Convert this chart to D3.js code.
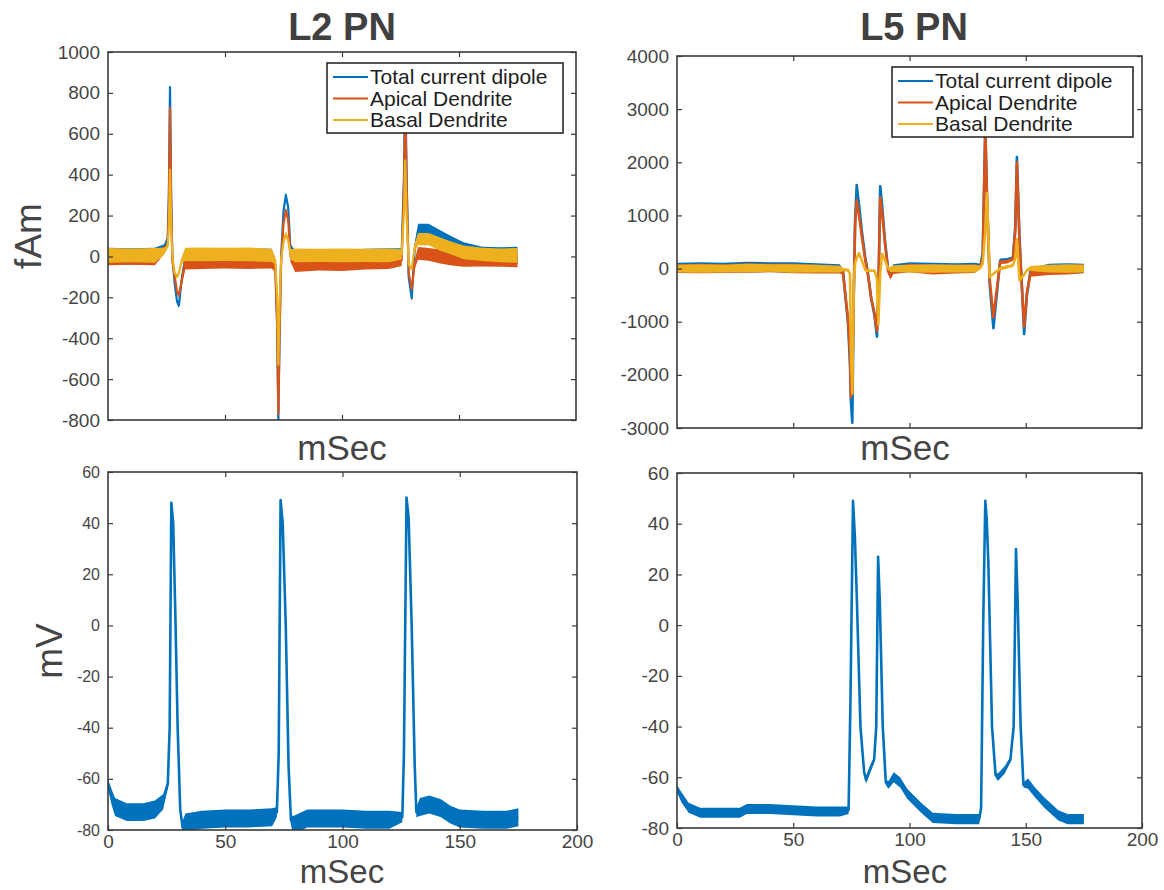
<!DOCTYPE html>
<html>
<head>
<meta charset="utf-8">
<script src="https://cdn.jsdelivr.net/npm/d3@7"></script>
<style>
  body { margin: 0; background: #fff; }
  svg { font-family: "Liberation Sans", Arial, Helvetica, sans-serif; }
</style>
</head>
<body>
<svg id="chart" width="1164" height="890"></svg>
<script>
// ---------- data ----------

// L2 PN current dipole (fAm), key points in ms
const l2Time = [0, 10, 20, 24, 25.5, 26, 26.5, 27, 27.5, 28.5, 29.5, 30.3, 31.5, 33, 40, 50, 60, 70,
    71.5, 72.3, 72.8, 73.3, 74, 75, 76, 77, 78, 80, 90, 100, 110, 120, 125.5, 126.5, 127, 127.6,
    128.5, 129.8, 131, 132.5, 137, 142, 147, 152, 160, 168, 175];
const l2Total = [0, 0, 0, 40, 90, 300, 828, 300, 0, -130, -220, -240, -110, -10, 0, 0, 0, 0,
    -40, -350, -800, -400, 0, 220, 300, 240, 30, -10, -10, -10, 0, 0, 10, 400, 880, 400,
    -100, -205, 30, 125, 125, 90, 60, 30, 10, 5, 5];
const l2Apical = [-5, -5, -5, 30, 60, 250, 726, 250, -20, -100, -170, -190, -120, -30, -25, -25, -25, -25,
    -60, -330, -770, -380, -20, 160, 225, 180, 0, -40, -35, -35, -30, -25, -20, 350, 780, 350,
    -80, -160, -40, 15, 10, 0, -10, -15, -15, -15, -15];
const l2Basal = [5, 5, 5, 25, 50, 150, 424, 150, 0, -80, -100, -80, -20, 10, 10, 10, 10, 5,
    -20, -200, -530, -250, -10, 70, 110, 80, 10, 5, 5, 5, 5, 5, 10, 220, 470, 200,
    -40, -60, 40, 85, 85, 60, 40, 20, 10, 5, 5];
// half width of the noise band around the traces
const l2Noise = [42, 40, 42, 20, 10, 5, 5, 5, 8, 10, 10, 12, 20, 38, 40, 38, 40, 38,
    20, 5, 5, 5, 10, 15, 15, 15, 30, 40, 38, 40, 38, 40, 30, 5, 5, 5,
    10, 12, 25, 35, 35, 38, 38, 40, 38, 40, 42];

// L5 PN current dipole (fAm)
const l5Time = [0, 10, 20, 30, 40, 50, 60, 70, 71.4, 73.6, 74.4, 74.8, 75.4, 76, 76.6, 77.3, 78.3,
    79.5, 81, 82, 83.5, 85, 86, 86.6, 87.4, 88.2, 89.5, 90.8, 91.8, 93, 100, 110, 120, 128,
    130.5, 131.5, 132.6, 133.3, 134.5, 136.1, 137.5, 139, 142, 144.5, 145.5, 146.2, 147.3,
    149.3, 150.5, 152, 160, 168, 175];
const l5Total = [20, 20, 20, 30, 30, 20, 10, 0, -50, -1050, -1800, -2500, -2900, -600, 900, 1570, 1200,
    700, 200, -50, -550, -900, -1280, -500, 1550, 1200, 500, 0, -80, 0, 30, 10, 10, 20,
    50, 300, 2650, 1400, -300, -1120, -500, 150, 160, 200, 800, 2100, 600,
    -1230, -500, -50, 0, 0, 0];
const l5Apical = [0, 0, 0, 10, 10, 0, -10, -20, -80, -970, -1600, -2420, -2300, -500, 800, 1290, 1000,
    600, 150, -80, -550, -850, -1180, -450, 1340, 1050, 450, -50, -150, -30, 10, -20, -10, 0,
    30, 200, 2600, 1400, -200, -920, -400, 120, 130, 180, 700, 2000, 500,
    -1100, -450, -100, -40, -20, 0];
const l5Basal = [0, 0, 0, 10, 10, 0, 0, -10, -20, -30, -100, -1500, -2350, -300, 100, 200, 290,
    150, -30, -40, -40, -40, -200, -1050, -100, 280, 150, 0, -20, 0, 0, 0, 0, 0,
    20, 100, 700, 1420, -160, -100, -50, 0, 30, 60, 200, 550, -220,
    -120, -30, 0, 0, 0, 0];
const l5Noise = [90, 100, 90, 100, 90, 100, 90, 80, 40, 30, 20, 20, 20, 20, 20, 20, 20,
    20, 20, 30, 30, 20, 20, 20, 20, 20, 20, 30, 60, 80, 90, 100, 90, 90,
    40, 20, 20, 20, 20, 20, 30, 40, 40, 30, 20, 20, 20,
    20, 30, 60, 90, 100, 90];

// somatic membrane potential (mV)
const l2SomaTime = [0, 1.5, 3, 8, 15, 20, 23.5, 25.5, 26.3, 27, 27.8, 28.7, 29.7, 30.8, 31.8, 33, 40,
    50, 60, 70, 72, 72.8, 73.6, 74.5, 75.8, 77, 78, 79, 85, 100, 110, 120, 125.5, 126.2, 127.3,
    128.2, 129.5, 130.8, 131.5, 133, 137, 142, 146, 150, 160, 170, 175];
const l2Soma = [-62, -67, -71, -73, -73, -72, -69, -62, -40, 48, 40, 5, -40, -72, -79, -77, -76,
    -75.5, -75.5, -75, -73, -50, 49, 40, 0, -55, -76, -78, -75.5, -75.5, -76, -76, -75, -50, 50,
    42, 0, -55, -73, -71, -70, -71.5, -74, -75.5, -76, -76, -75];
const l2SomaNoise = [2, 3, 3.5, 3.5, 3.5, 3.5, 3, 1.5, 0.5, 0.5, 0.5, 0.5, 0.5, 1, 2.5, 3.5, 3.5,
    3.5, 3.5, 3.5, 2, 0.5, 0.5, 0.5, 0.5, 0.5, 2, 3.5, 3.5, 3.5, 3.5, 3.5, 2, 0.5, 0.5,
    0.5, 0.5, 0.5, 2, 3.5, 3.5, 3.5, 3.5, 3.5, 3.5, 3.5, 3.5];

const l5SomaTime = [0, 2, 5, 10, 20, 27, 30, 40, 50, 60, 70, 73.8, 74.6, 75.7, 76.5, 77.3, 78.9, 80.5,
    81.3, 83, 84.8, 85.7, 86.5, 87.2, 88.5, 89.8, 91, 93.2, 96, 99, 105, 110, 120, 130, 130.8,
    131.7, 132.6, 133.2, 133.9, 135.5, 137, 138, 141, 143.4, 144.8, 145.8, 146.5, 147.8, 149,
    151, 154, 158, 164, 168, 175];
const l5Soma = [-64.5, -68, -72, -74, -74, -74, -72.5, -72.5, -73, -73.5, -73.5, -73, -30, 49, 35, 12, -40, -58,
    -61, -57, -53, -40, 27, 10, -40, -62, -63, -60, -62, -66.5, -72, -76, -76.5, -76.5, -72,
    0, 49, 42, 25, -40, -59, -60, -57, -53, -40, 30, 10, -40, -63,
    -62.5, -66, -70, -75, -76.5, -76.5];
const l5SomaNoise = [1.5, 2, 2, 2, 2, 2, 2, 2, 2, 2, 2, 1.5, 0.5, 0.5, 0.5, 0.5, 0.5, 1,
    1.5, 1.5, 1, 0.5, 0.5, 0.5, 0.5, 1, 1.5, 2, 2, 2, 2, 2, 2, 2, 1,
    0.5, 0.5, 0.5, 0.5, 0.5, 1, 1.5, 1.5, 1, 0.5, 0.5, 0.5, 0.5, 1,
    2, 2, 2, 2, 2, 2];

// ticks and labels
const timeTicks = [0, 50, 100, 150, 200];
const l2DipoleTicks = [-800, -600, -400, -200, 0, 200, 400, 600, 800, 1000];
const l5DipoleTicks = [-3000, -2000, -1000, 0, 1000, 2000, 3000, 4000];
const somaTicks = [-80, -60, -40, -20, 0, 20, 40, 60];
const legendNames = ["Total current dipole", "Apical Dendrite", "Basal Dendrite"];
const panelTitles = ["L2 PN", "L5 PN"];

// ---------- drawing ----------
const svg = d3.select("#chart");
const colors = ["#0072BD", "#D95319", "#EDB120"];
const ink = "#3a3a3a";
const tickLen = 5;
const plain = d => String(d); // MATLAB style: no separators, hyphen minus

let clipCount = 0;

function drawPanel(p) {
    const g = svg.append("g");

    const x = d3.scaleLinear().domain([0, 200]).range([p.left, p.right]);
    const y = d3.scaleLinear().domain([p.yTicks[0], p.yTicks[p.yTicks.length - 1]])
        .range([p.bottom, p.top]);

    // clip traces to the axes box
    const clipId = "clip" + (clipCount++);
    svg.append("clipPath").attr("id", clipId).append("rect")
        .attr("x", p.left).attr("y", p.top)
        .attr("width", p.right - p.left).attr("height", p.bottom - p.top);

    const plot = g.append("g").attr("clip-path", `url(#${clipId})`);

    const band = d3.area().x(d => x(d.t)).y0(d => y(d.v - d.n)).y1(d => y(d.v + d.n));
    const line = d3.line().x(d => x(d.t)).y(d => y(d.v));

    p.series.forEach((s, k) => {
        const pts = p.time.map((t, i) => ({ t: t, v: s[i], n: p.noise[i] * p.noiseScale[k] }));
        plot.append("path").datum(pts).attr("d", band)
            .attr("fill", p.colors[k]);
        plot.append("path").datum(pts).attr("d", line)
            .attr("fill", "none").attr("stroke", p.colors[k])
            .attr("stroke-width", p.lineWidth).attr("stroke-linejoin", "round");
    });

    // MATLAB-like box with inward ticks on all four sides
    const styleAxis = a => {
        a.select(".domain").remove();
        a.attr("color", ink).attr("font-family", null).attr("font-size", null);
        a.selectAll("line").attr("stroke-width", 1.2);
    };

    g.append("g").attr("transform", `translate(${p.left},0)`)
        .call(d3.axisLeft(y).tickValues(p.yTicks).tickFormat(plain)
            .tickSizeInner(-tickLen).tickSizeOuter(0).tickPadding(8))
        .call(styleAxis)
        .selectAll("text").attr("font-size", p.yTickFont).attr("fill", "#454545");

    g.append("g").attr("transform", `translate(${p.right},0)`)
        .call(d3.axisRight(y).tickValues(p.yTicks).tickSizeInner(-tickLen).tickSizeOuter(0).tickFormat(""))
        .call(styleAxis);

    g.append("g").attr("transform", `translate(0,${p.top})`)
        .call(d3.axisTop(x).tickValues(timeTicks.slice(1, -1)).tickSizeInner(-tickLen).tickSizeOuter(0).tickFormat(""))
        .call(styleAxis);

    const bottomAxis = d3.axisBottom(x).tickSizeInner(-tickLen).tickSizeOuter(0).tickPadding(5);
    if (p.xLabels) bottomAxis.tickValues(timeTicks).tickFormat(plain);
    else bottomAxis.tickValues(timeTicks.slice(1, -1)).tickFormat("");
    g.append("g").attr("transform", `translate(0,${p.bottom})`)
        .call(bottomAxis)
        .call(styleAxis)
        .selectAll("text").attr("font-size", 19).attr("fill", "#454545");

    g.append("rect")
        .attr("x", p.left).attr("y", p.top)
        .attr("width", p.right - p.left).attr("height", p.bottom - p.top)
        .attr("fill", "none").attr("stroke", ink).attr("stroke-width", 1.6);

    // x label
    g.append("text")
        .attr("x", p.xLabelX).attr("y", p.xLabelY)
        .attr("text-anchor", "middle").attr("font-size", p.xLabelFont).attr("fill", "#454545")
        .text("mSec");

    // y label
    if (p.yLabel) {
        g.append("text")
            .attr("transform", `translate(${p.yLabelX},${(p.top + p.bottom) / 2}) rotate(-90)`)
            .attr("text-anchor", "middle").attr("font-size", 37).attr("fill", "#454545")
            .text(p.yLabel);
    }

    // title
    if (p.title) {
        g.append("text")
            .attr("x", p.titleX).attr("y", 40)
            .attr("text-anchor", "middle").attr("font-size", 38).attr("font-weight", "bold")
            .attr("fill", "#404040")
            .text(p.title);
    }

    // legend
    if (p.legend) {
        const L = p.legend;
        const lg = g.append("g").attr("transform", `translate(${L.x},${L.y})`);
        lg.append("rect").attr("width", L.w).attr("height", L.h)
            .attr("fill", "#fff").attr("stroke", "#2a2a2a").attr("stroke-width", 1.6);
        legendNames.forEach((name, k) => {
            const yy = 14 + k * 21.5;
            lg.append("line").attr("x1", 6).attr("x2", 41).attr("y1", yy).attr("y2", yy)
                .attr("stroke", p.colors[k]).attr("stroke-width", 2.2);
            lg.append("text").attr("x", 43).attr("y", yy + 7)
                .attr("font-size", 21).attr("fill", "#1e1e1e").text(name);
        });
    }
}

drawPanel({
    left: 108, right: 576, top: 52, bottom: 420,
    time: l2Time, series: [l2Total, l2Apical, l2Basal], noise: l2Noise,
    noiseScale: [1, 0.9, 0.85], colors: colors, lineWidth: 2.2,
    yTicks: l2DipoleTicks, yTickFont: 19, xLabels: false,
    xLabelX: 342, xLabelY: 460, xLabelFont: 35, yLabel: "fAm", yLabelX: 41,
    title: panelTitles[0], titleX: 342,
    legend: { x: 327, y: 63, w: 236, h: 70 }
});

drawPanel({
    left: 677, right: 1142, top: 56, bottom: 428,
    time: l5Time, series: [l5Total, l5Apical, l5Basal], noise: l5Noise,
    noiseScale: [1, 0.9, 0.8], colors: colors, lineWidth: 2.6,
    yTicks: l5DipoleTicks, yTickFont: 19, xLabels: false,
    xLabelX: 905, xLabelY: 460, xLabelFont: 35, yLabel: null,
    title: panelTitles[1], titleX: 914,
    legend: { x: 892, y: 67, w: 241, h: 70 }
});

drawPanel({
    left: 108, right: 577, top: 472, bottom: 830,
    time: l2SomaTime, series: [l2Soma], noise: l2SomaNoise,
    noiseScale: [1], colors: [colors[0]], lineWidth: 2.6,
    yTicks: somaTicks, yTickFont: 16, xLabels: true,
    xLabelX: 342, xLabelY: 883, xLabelFont: 33, yLabel: "mV", yLabelX: 62
});

drawPanel({
    left: 677, right: 1142, top: 473, bottom: 828,
    time: l5SomaTime, series: [l5Soma], noise: l5SomaNoise,
    noiseScale: [1], colors: [colors[0]], lineWidth: 2.6,
    yTicks: somaTicks, yTickFont: 19, xLabels: true,
    xLabelX: 905, xLabelY: 883, xLabelFont: 33, yLabel: null
});
</script>
</body>
</html>
